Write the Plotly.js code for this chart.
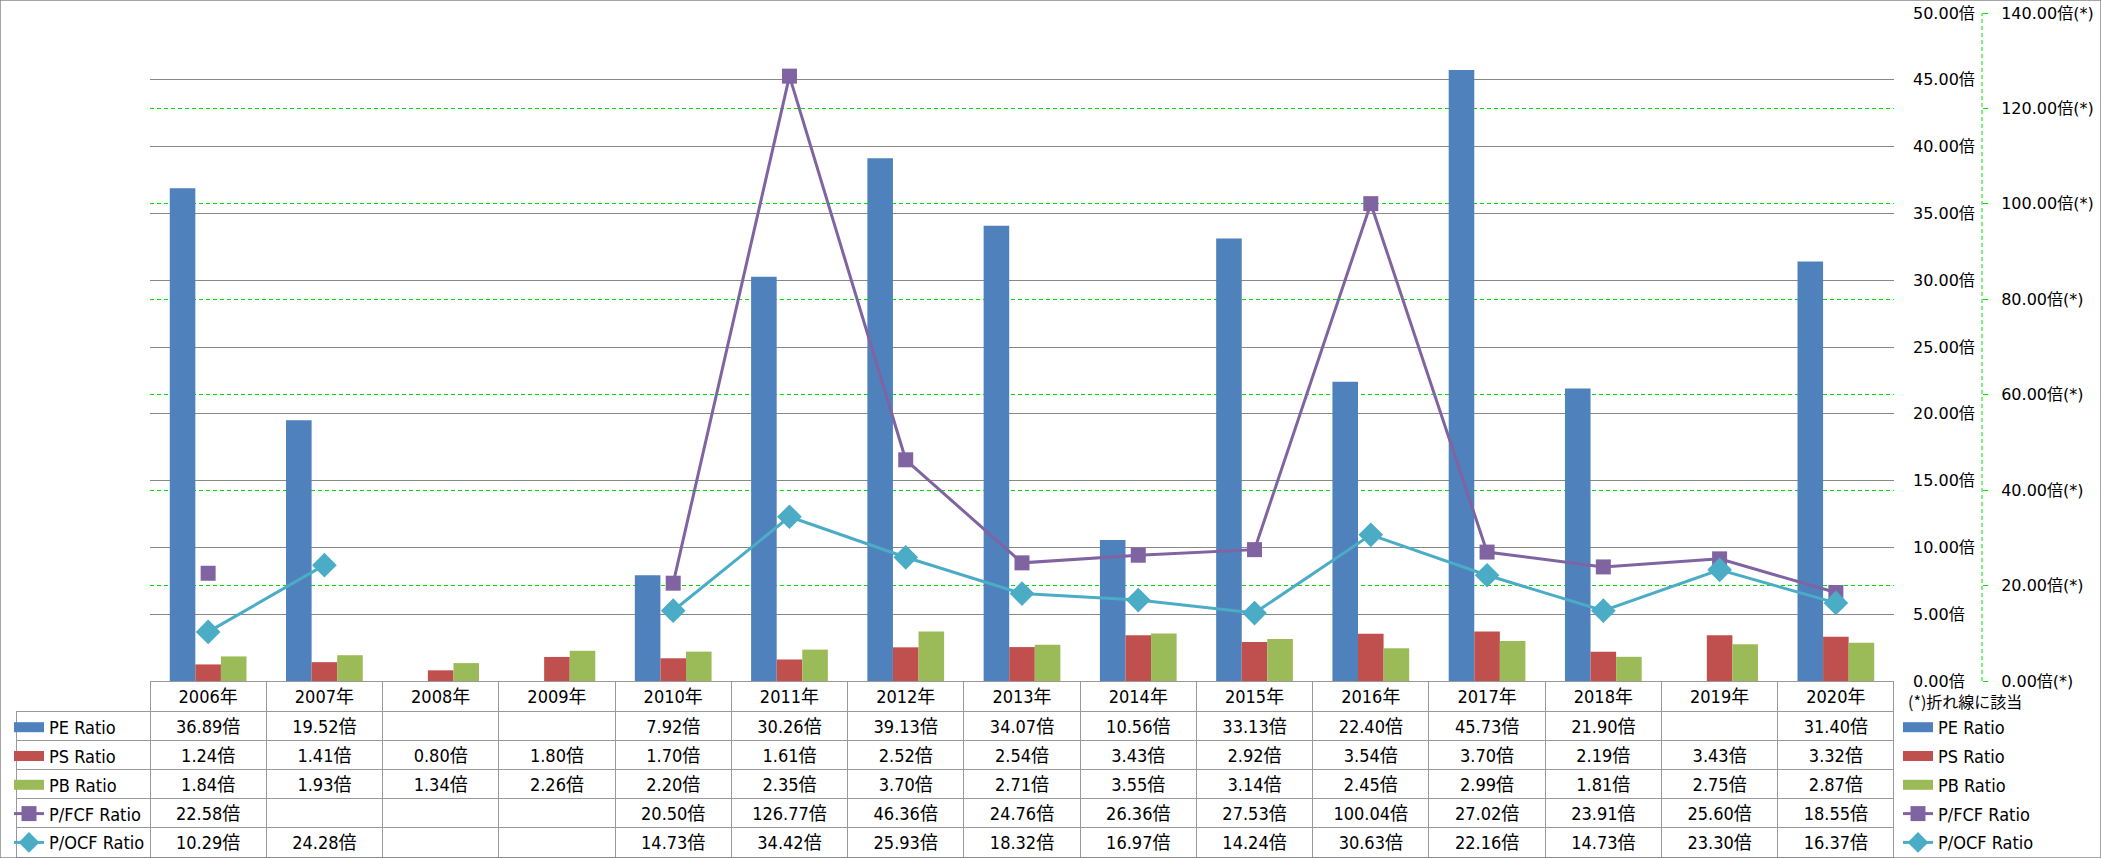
<!DOCTYPE html>
<html>
<head>
<meta charset="utf-8">
<script src="https://cdn.plot.ly/plotly-3.0.1.min.js"></script>
<style>
    body { margin: 0; background: #ffffff; }
    #chart { width: 2101px; height: 858px; }
</style>
</head>
<body>
<div id="chart"></div>
<script>
// years along the x axis (also the table header)
let years = ["2006年", "2007年", "2008年", "2009年", "2010年", "2011年", "2012年", "2013年",
             "2014年", "2015年", "2016年", "2017年", "2018年", "2019年", "2020年"];

// bar series, left scale
let peRatio = [36.89, 19.52, null, null, 7.92, 30.26, 39.13, 34.07, 10.56, 33.13, 22.40, 45.73, 21.90, null, 31.40];
let psRatio = [1.24, 1.41, 0.80, 1.80, 1.70, 1.61, 2.52, 2.54, 3.43, 2.92, 3.54, 3.70, 2.19, 3.43, 3.32];
let pbRatio = [1.84, 1.93, 1.34, 2.26, 2.20, 2.35, 3.70, 2.71, 3.55, 3.14, 2.45, 2.99, 1.81, 2.75, 2.87];

// line series, right scale (marked with (*))
let pfcfRatio = [22.58, null, null, null, 20.50, 126.77, 46.36, 24.76, 26.36, 27.53, 100.04, 27.02, 23.91, 25.60, 18.55];
let pocfRatio = [10.29, 24.28, null, null, 14.73, 34.42, 25.93, 18.32, 16.97, 14.24, 30.63, 22.16, 14.73, 23.30, 16.37];

let seriesNames = ["PE Ratio", "PS Ratio", "PB Ratio", "P/FCF Ratio", "P/OCF Ratio"];
let seriesColors = ["#4F81BD", "#C0504D", "#9BBB59", "#8064A2", "#4BACC6"];

// page size and plot area in pixels
const W = 2101, H = 858;
const plotLeft = 150, plotRight = 1894, plotTop = 13, plotBottom = 681;
const tableLeft = 16;
const axis2X = 1982;

// narrow face for the table and legends
const textFont = "DejaVu Sans Condensed, Noto Sans CJK JP";
const textSize = 18;
const tickFont = {family: "DejaVu Sans, Noto Sans CJK JP", size: 16, color: "#000000"};
const gridGreen = "#00E000";

// format a value like the table does
function fmt(v)
{
    return v === null ? "" : v.toFixed(2) + "倍";
}

let allSeries = [peRatio, psRatio, pbRatio, pfcfRatio, pocfRatio];

// table columns: first column is empty (legend sits on it), then one column per year
let tableColumns = [seriesNames.map(() => "")];
years.forEach((y, i) => tableColumns.push(allSeries.map(s => fmt(s[i]))));

let colWidth = (plotRight - plotLeft) / years.length;
let columnWidths = [plotLeft - tableLeft].concat(years.map(() => colWidth));
let headerLineColors = ["rgba(0,0,0,0)"].concat(years.map(() => "#999999"));

let xDomain = [plotLeft / W, plotRight / W];
let yDomain = [(H - plotBottom) / H, (H - plotTop) / H];

// bar traces
let barTraces = [peRatio, psRatio, pbRatio].map((vals, i) => ({
    type: "bar",
    x: years,
    y: vals,
    name: seriesNames[i],
    marker: {color: seriesColors[i]},
    showlegend: false,
    hoverinfo: "skip"
}));

// line traces
let lineSymbols = ["square", "diamond"];
let lineSizes = [15, 19];
let lineTraces = [pfcfRatio, pocfRatio].map((vals, i) => ({
    type: "scatter",
    mode: "lines+markers",
    x: years,
    y: vals,
    yaxis: "y2",
    name: seriesNames[i + 3],
    connectgaps: false,
    line: {color: seriesColors[i + 3], width: 3},
    marker: {color: seriesColors[i + 3], symbol: lineSymbols[i], size: lineSizes[i]},
    showlegend: false,
    hoverinfo: "skip"
}));

// legend entries for both legends, on hidden axes so they draw nothing;
// bars get a thick short line so the key is a wide block like the original
function legendEntries(legendId)
{
    return seriesNames.map((name, i) => {
        let t = {
            type: "scatter",
            x: [years[0]],
            y: [null],
            xaxis: "x2",
            yaxis: "y3",
            name: name,
            legend: legendId,
            legendgroup: legendId + i,
            hoverinfo: "skip"
        };
        if (i < 3) {
            t.mode = "lines";
            t.line = {color: seriesColors[i], width: 12};
        } else {
            t.mode = "lines+markers";
            t.line = {color: seriesColors[i], width: 3};
            t.marker = {color: seriesColors[i], symbol: lineSymbols[i - 3], size: lineSizes[i - 3]};
        }
        return t;
    });
}

// data table under the plot
let tableTrace = {
    type: "table",
    domain: {x: [tableLeft / W, plotRight / W], y: [0, (H - plotBottom) / H]},
    columnwidth: columnWidths,
    header: {
        values: [""].concat(years),
        height: 30,
        align: "center",
        line: {color: headerLineColors, width: 1},
        fill: {color: "rgba(0,0,0,0)"},
        font: {family: textFont, size: textSize, color: "#000000"}
    },
    cells: {
        values: tableColumns,
        height: 29.2,
        align: "center",
        line: {color: "#999999", width: 1},
        fill: {color: "rgba(0,0,0,0)"},
        font: {family: textFont, size: textSize, color: "#000000"}
    }
};

let legendStyle = {
    xanchor: "left",
    y: (H - 709) / H,
    yanchor: "top",
    font: {family: textFont, size: textSize, color: "#000000"},
    tracegroupgap: 2.4,
    bgcolor: "rgba(0,0,0,0)",
    borderwidth: 0
};

let layout = {
    width: W,
    height: H,
    // keep the legends from pushing the plot area around
    margin: {l: 0, r: 0, t: 0, b: 0, autoexpand: false},
    paper_bgcolor: "#ffffff",
    plot_bgcolor: "rgba(0,0,0,0)",
    barmode: "group",
    bargap: 0.34,
    bargroupgap: 0,
    xaxis: {
        domain: xDomain,
        type: "category",
        range: [-0.5, years.length - 0.5],
        showticklabels: false,
        showgrid: false,
        zeroline: false,
        showline: false
    },
    yaxis: {
        domain: yDomain,
        range: [0, 50],
        dtick: 5,
        side: "right",
        showgrid: true,
        gridcolor: "#888888",
        gridwidth: 1,
        zeroline: false,
        showline: false,
        tickformat: ".2f",
        ticksuffix: "倍",
        ticklabelstandoff: 18,
        tickfont: tickFont
    },
    yaxis2: {
        overlaying: "y",
        anchor: "free",
        position: axis2X / W,
        side: "right",
        range: [0, 140],
        dtick: 20,
        showgrid: true,
        gridcolor: gridGreen,
        griddash: "4px,3px",
        gridwidth: 1,
        zeroline: false,
        showline: false,
        ticks: "outside",
        ticklen: 5,
        tickcolor: gridGreen,
        tickformat: ".2f",
        ticksuffix: "倍(*)",
        ticklabelstandoff: 10,
        tickfont: tickFont
    },
    xaxis2: {domain: xDomain, anchor: "y3", type: "category", visible: false},
    yaxis3: {domain: yDomain, anchor: "x2", visible: false},
    legend: Object.assign({x: 9 / W}, legendStyle),
    legend2: Object.assign({x: 1898 / W}, legendStyle),
    shapes: [
        // outer frame
        {type: "rect", xref: "paper", yref: "paper", x0: 0, x1: 1, y0: 0, y1: 1,
         line: {color: "#888888", width: 1.5}},
        // dashed line for the (*) axis
        {type: "line", xref: "paper", yref: "paper", x0: axis2X / W, x1: axis2X / W,
         y0: yDomain[0], y1: yDomain[1], line: {color: gridGreen, width: 1, dash: "4px,3px"}}
    ],
    annotations: [
        {text: "(*)折れ線に該当", xref: "paper", yref: "paper", x: 1906 / W, y: (H - 701) / H,
         xanchor: "left", yanchor: "middle", showarrow: false,
         font: {family: "Noto Sans CJK JP", size: 16, color: "#000000"}}
    ]
};

let traces = barTraces.concat(lineTraces, legendEntries("legend"), legendEntries("legend2"), [tableTrace]);
Plotly.newPlot("chart", traces, layout, {displayModeBar: false, staticPlot: true});
</script>
</body>
</html>
